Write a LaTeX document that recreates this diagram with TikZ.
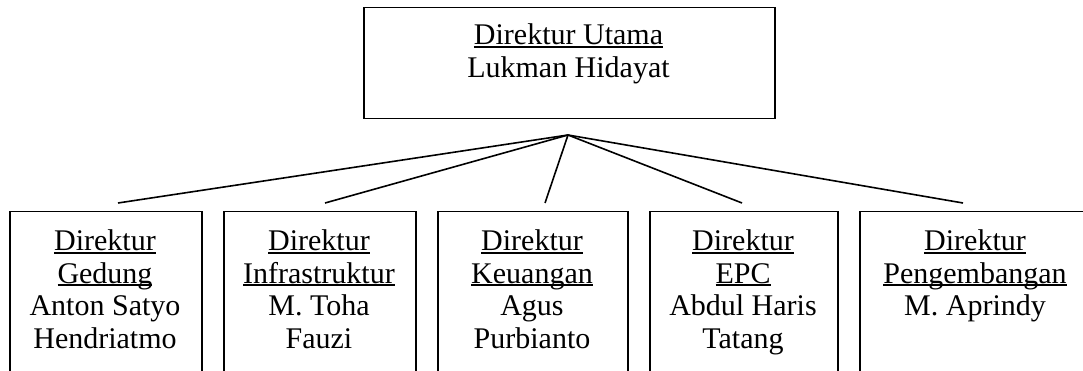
\documentclass[tikz,border=0pt]{standalone}
\usepackage{fontspec}
\setmainfont{Liberation Serif}
% underline drawn as a rule just below the baseline
\newcommand\ulinetxt[1]{\setbox0\hbox{#1}\rlap{\rule[-3pt]{\wd0}{1.6pt}}\box0}
\begin{document}
\begin{tikzpicture}[x=1pt,y=-1pt,
  orgbox/.style={draw=black,line width=1.5pt,rectangle,inner sep=0pt,anchor=north west},
  orgtext/.style={align=center,anchor=north,inner sep=0pt,
    font=\fontsize{30}{32.5}\selectfont},
  link/.style={draw=black,line width=1.6pt}]
\useasboundingbox (0,0) rectangle (1083,371);
\clip (0,0) rectangle (1083,371);

% top box
\node[orgbox,minimum width=411pt,minimum height=111pt] (top) at (363,7) {};
\node[orgtext] (ttop) at (568.5,23.5) {\ulinetxt{Direktur Utama}\\Lukman Hidayat};

% second-level boxes (their bottoms run off the page)
\node[orgbox,minimum width=192pt,minimum height=180pt] (b1) at (9,211) {};
\node[orgbox,minimum width=192pt,minimum height=180pt] (b2) at (223,211) {};
\node[orgbox,minimum width=190pt,minimum height=180pt] (b3) at (437,211) {};
\node[orgbox,minimum width=188pt,minimum height=180pt] (b4) at (649,211) {};
\node[orgbox,minimum width=260pt,minimum height=180pt] (b5) at (859,211) {};

\node[orgtext] (t1) at (105,229.5) {\ulinetxt{Direktur}\\\ulinetxt{Gedung}\\Anton Satyo\\Hendriatmo};
\node[orgtext] (t2) at (319,229.5) {\ulinetxt{Direktur}\\\ulinetxt{Infrastruktur}\\M. Toha\\Fauzi};
\node[orgtext] (t3) at (532,229.5) {\ulinetxt{Direktur}\\\ulinetxt{Keuangan}\\Agus\\Purbianto};
\node[orgtext] (t4) at (743,229.5) {\ulinetxt{Direktur}\\\ulinetxt{EPC}\\Abdul Haris\\Tatang};
\node[orgtext] (t5) at (975,229.5) {\ulinetxt{Direktur}\\\ulinetxt{Pengembangan}\\M. Aprindy};

% fan of connectors
\coordinate (apex) at (568,135);
\coordinate (e1) at (118,203);
\coordinate (e2) at (325,203);
\coordinate (e3) at (545,203);
\coordinate (e4) at (742,203);
\coordinate (e5) at (963,203);
\foreach \e in {e1,e2,e3,e4,e5}
  \draw[link] (apex) -- (\e);
\end{tikzpicture}
\end{document}
